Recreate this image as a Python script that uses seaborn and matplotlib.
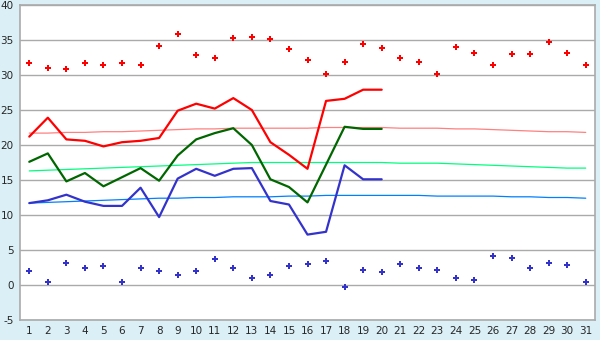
import numpy as np
import pandas as pd
import matplotlib
matplotlib.use("Agg")
import matplotlib.pyplot as plt
import seaborn as sns

# Days of the month
days = list(range(1, 32))

# Daily values (only first 20 days measured)
t_max = [21.2, 23.9, 20.8, 20.6, 19.8, 20.4, 20.6, 21.0, 24.9, 25.9,
         25.2, 26.7, 25.0, 20.4, 18.6, 16.6, 26.3, 26.6, 27.9, 27.9]
t_mean = [17.6, 18.8, 14.8, 16.0, 14.1, 15.4, 16.7, 14.9, 18.5, 20.8,
          21.7, 22.4, 20.0, 15.1, 14.0, 11.8, 17.2, 22.6, 22.3, 22.3]
t_min = [11.7, 12.1, 12.9, 11.9, 11.3, 11.3, 13.9, 9.7, 15.2, 16.6,
         15.6, 16.6, 16.7, 12.0, 11.5, 7.2, 7.6, 17.1, 15.1, 15.1]

# Normals
norm_max = [21.7, 21.7, 21.8, 21.8, 21.9, 21.9, 22.0, 22.1, 22.2, 22.3,
            22.3, 22.4, 22.4, 22.4, 22.4, 22.4, 22.5, 22.5, 22.5, 22.5,
            22.4, 22.4, 22.4, 22.3, 22.3, 22.2, 22.1, 22.0, 21.9, 21.9, 21.8]
norm_mean = [16.3, 16.4, 16.5, 16.6, 16.7, 16.8, 16.9, 17.0, 17.1, 17.2,
             17.3, 17.4, 17.5, 17.5, 17.5, 17.5, 17.5, 17.5, 17.5, 17.5,
             17.4, 17.4, 17.4, 17.3, 17.2, 17.1, 17.0, 16.9, 16.8, 16.7, 16.7]
norm_min = [11.7, 11.8, 11.9, 12.0, 12.1, 12.2, 12.3, 12.4, 12.4, 12.5,
            12.5, 12.6, 12.6, 12.6, 12.7, 12.7, 12.8, 12.8, 12.8, 12.8,
            12.8, 12.8, 12.7, 12.7, 12.7, 12.7, 12.6, 12.6, 12.5, 12.5, 12.4]

# Record extremes
rec_max = [31.7, 31.0, 30.8, 31.7, 31.4, 31.7, 31.5, 34.1, 35.8, 32.8,
           32.5, 35.3, 35.4, 35.1, 33.7, 32.1, 30.1, 31.8, 34.4, 33.8,
           32.4, 31.8, 30.2, 34.0, 33.1, 31.4, 33.0, 33.0, 34.7, 33.2, 31.4]
rec_min = [2.0, 0.4, 3.1, 2.4, 2.7, 0.4, 2.4, 2.0, 1.4, 2.0,
           3.7, 2.4, 1.0, 1.4, 2.7, 3.0, 3.4, -0.3, 2.2, 1.8,
           3.0, 2.5, 2.2, 1.0, 0.7, 4.2, 3.8, 2.4, 3.2, 2.8, 0.4]

bg = "#dbeff6"
grid_col = "#aaaaaa"

sns.set_style("white")
plt.rcParams['font.family'] = ['DejaVu Sans']
plt.rcParams['axes.unicode_minus'] = False

fig = plt.figure(figsize=(6, 3.4), dpi=100, facecolor=bg)
ax = fig.add_axes([20 / 600, 20 / 340, 575 / 600, 315 / 340])
ax.set_facecolor("white")

d20 = days[:20]

# normals (thin)
sns.lineplot(x=days, y=norm_max, color="#ff8080", lw=0.9, ax=ax)
sns.lineplot(x=days, y=norm_mean, color="#00ff80", lw=0.9, ax=ax)
sns.lineplot(x=days, y=norm_min, color="#0080ff", lw=0.9, ax=ax)

# measured values
sns.lineplot(x=d20, y=t_max, color="#ff0000", lw=1.6, ax=ax)
sns.lineplot(x=d20, y=t_mean, color="#006600", lw=1.6, ax=ax)
sns.lineplot(x=d20, y=t_min, color="#3333cc", lw=1.6, ax=ax)

# extremes
sns.scatterplot(x=days, y=rec_max, color="#ff0000", marker="P", s=20,
                linewidth=0, ax=ax)
sns.scatterplot(x=days, y=rec_min, color="#3333cc", marker="P", s=20,
                linewidth=0, ax=ax)

ax.set_xlim(0.5, 31.5)
ax.set_ylim(-5, 40)
ax.set_xticks(days)
ax.set_yticks(range(-5, 41, 5))
ax.yaxis.grid(True, color=grid_col, lw=1)
ax.set_axisbelow(True)
for s in ax.spines.values():
    s.set_color(grid_col)
    s.set_linewidth(1.2)
ax.tick_params(axis="both", length=3, width=0.8, color="black",
               labelsize=7.5, pad=1.5, direction="out")
ax.set_xlabel("")
ax.set_ylabel("")

fig.savefig("out.png", dpi=100, facecolor=bg)
